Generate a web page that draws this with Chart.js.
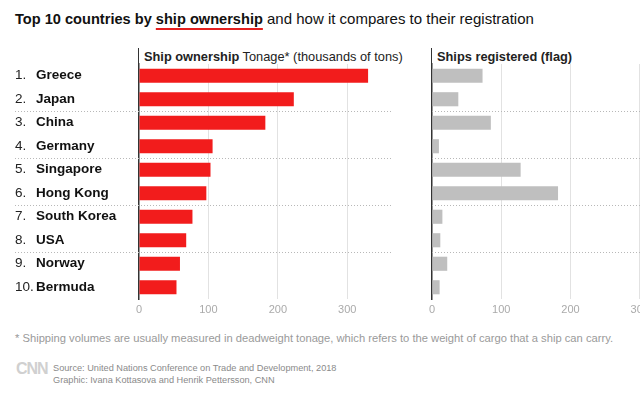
<!DOCTYPE html>
<html><head><meta charset="utf-8">
<script src="https://cdn.jsdelivr.net/npm/chart.js@4"></script>
<style>
html,body{margin:0;padding:0;background:#fff;width:640px;height:402px;overflow:hidden;position:relative;font-family:"Liberation Sans",Arial,sans-serif}
.abs{position:absolute;white-space:nowrap}
#title{left:15px;top:10px;font-size:15px;color:#111;line-height:18px}
#title b{font-weight:bold;font-size:14.6px}
#title .ul{text-decoration:underline;text-decoration-color:#e41f1f;text-decoration-thickness:2px;text-underline-offset:4px}
.hdr{top:48px;height:17px;line-height:17px;border-left:1.5px solid #333;padding-left:5px;font-size:12.8px;color:#222}
#foot{left:15px;top:332px;font-size:11.2px;color:#9a9a9a}
#src{left:53px;top:362px;font-size:9.2px;line-height:12px;color:#8a8a8a}
#logo{left:16px;top:360px;font-size:16px;font-weight:bold;color:#d0d0d0;letter-spacing:-1px}
canvas{position:absolute;top:0}
</style>
</head><body>
<div id="title" class="abs"><b>Top 10 countries by <span class="ul">ship ownership</span></b> and how it compares to their registration</div>
<div class="abs hdr" style="left:138px"><b>Ship ownership</b> Tonage* (thousands of tons)</div>
<div class="abs hdr" style="left:431px"><b>Ships registered (flag)</b></div>
<canvas id="c1" width="400" height="330" style="left:0"></canvas>
<canvas id="c2" width="290" height="330" style="left:410px"></canvas>
<div id="foot" class="abs">* Shipping volumes are usually measured in deadweight tonage, which refers to the weight of cargo that a ship can carry.</div>
<div id="logo" class="abs">CNN</div>
<div id="src" class="abs">Source: United Nations Conference on Trade and Development, 2018<br>Graphic: Ivana Kottasova and Henrik Pettersson, CNN</div>
<script>
const countries = ['Greece','Japan','China','Germany','Singapore','Hong Kong','South Korea','USA','Norway','Bermuda'];
const ranks = ['1.','2.','3.','4.','5.','6.','7.','8.','9.','10.'];
const ownershipTonnage = [330,223,182,106,103,97,77,68,59,54];
const shipsRegistered = [73,38,85,10,128,182,15,12,22,11];
const ownershipTicks = [0,100,200,300];
const registeredTicks = [0,100,200,300];

const separators = {
  id:'separators',
  beforeDatasetsDraw(chart, args, opts){
    const y = chart.scales.y, ctx = chart.ctx, area = chart.chartArea;
    const x0 = (opts && opts.startX != null) ? opts.startX : area.left;
    ctx.save(); ctx.strokeStyle = '#b8b8b8'; ctx.lineWidth = 1; ctx.setLineDash([1,2]);
    for (let i = 1; i < countries.length - 1; i += 2) {
      const py = Math.round((y.getPixelForValue(i) + y.getPixelForValue(i+1)) / 2) + 0.5;
      ctx.beginPath(); ctx.moveTo(x0, py); ctx.lineTo(area.right, py); ctx.stroke();
    }
    ctx.restore();
  }
};

function xScale(max, ticksArr){
  return {
    type:'linear', min:0, max:max,
    afterBuildTicks: s => { s.ticks = ticksArr.map(v => ({value:v})); },
    grid:{color: c => (c.tick && c.tick.value === 0) ? 'rgba(0,0,0,0)' : '#e2e2e2', drawTicks:false, lineWidth:1},
    border:{display:false},
    ticks:{color:'#aaa', font:{size:11, family:'"Liberation Sans", Arial, sans-serif'}, padding:4, maxRotation:0},
    afterFit: s => { s.height = 31; }
  };
}

new Chart(document.getElementById('c1'), {
  type:'bar',
  data:{labels:countries, datasets:[{data:ownershipTonnage, backgroundColor:'#f21c1c', barPercentage:0.6, categoryPercentage:1}]},
  plugins:[separators],
  options:{
    indexAxis:'y', responsive:false, animation:false, events:[],
    layout:{padding:{left:15, top:64, right:9, bottom:0}},
    plugins:{legend:{display:false}, tooltip:{enabled:false}, separators:{startX:15}},
    scales:{
      x: xScale(363, ownershipTicks),
      y:{type:'category', position:'left', offset:true, weight:1, grid:{display:false},
         border:{color:'#333', width:1.5},
         ticks:{crossAlign:'far', color:'#111', padding:0, font:{size:13.5, weight:'bold', family:'"Liberation Sans", Arial, sans-serif'}},
         afterFit: s => { s.width = 103; }},
      yNum:{type:'category', labels:ranks, position:'left', offset:true, weight:2, grid:{display:false},
         border:{display:false},
         ticks:{crossAlign:'far', color:'#222', padding:0, font:{size:13.5, family:'"Liberation Sans", Arial, sans-serif'}},
         afterFit: s => { s.width = 21; }}
    }
  }
});

new Chart(document.getElementById('c2'), {
  type:'bar',
  data:{labels:countries, datasets:[{data:shipsRegistered, backgroundColor:'#bfbfbf', barPercentage:0.6, categoryPercentage:1}]},
  plugins:[separators],
  options:{
    indexAxis:'y', responsive:false, animation:false, events:[],
    layout:{padding:{left:22, top:64, right:0, bottom:0}},
    plugins:{legend:{display:false}, tooltip:{enabled:false}},
    scales:{
      x: xScale(387, registeredTicks),
      y:{type:'category', position:'left', offset:true, grid:{display:false},
         border:{color:'#333', width:1.5}, ticks:{display:false},
         afterFit: s => { s.width = 0; }}
    }
  }
});
</script>
</body></html>
